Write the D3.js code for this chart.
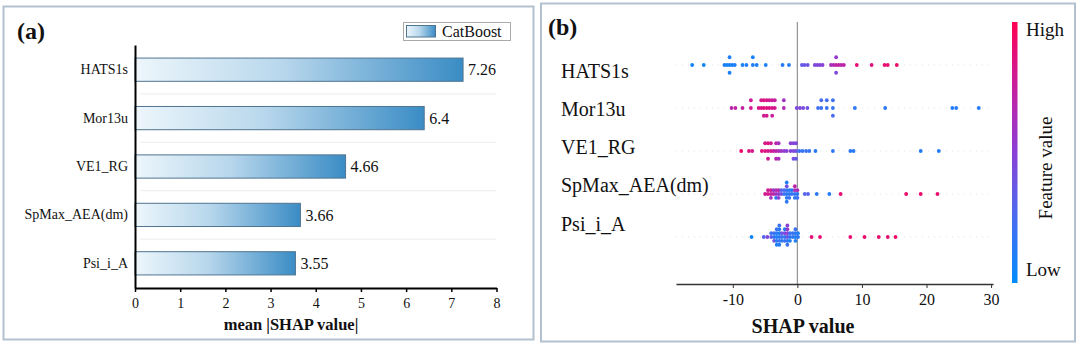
<!DOCTYPE html>
<html>
<head>
<meta charset="utf-8">
<script src="https://cdn.jsdelivr.net/npm/d3@7"></script>
<style>
  body { margin: 0; background: #fff; }
  svg text { font-family: "Liberation Serif", "Times New Roman", serif; fill: #111; }
</style>
</head>
<body>
<svg id="chart" width="1080" height="346"></svg>
<script>
// features, most important first
var features = ["HATS1s", "Mor13u", "VE1_RG", "SpMax_AEA(dm)", "Psi_i_A"];
var meanShap = [7.26, 6.4, 4.66, 3.66, 3.55];
var barTicks = [0, 1, 2, 3, 4, 5, 6, 7, 8];
var shapTicks = [-10, 0, 10, 20, 30];

// per-sample SHAP values and scaled feature values (0 = low, 1 = high)
var hatsShap = [-16.3, -14.5, -11.3, -10.9, -10.5, -10.5, -10.5, -10.1, -9.7, -8.5, -7.9, -6.9, -6.9, -6.3, -4.9, -2.3, -1.3,
  0.7, 1.1, 1.6, 2.7, 3.1, 3.5, 3.9, 5.2, 5.6, 6.0, 6.0, 6.0, 6.4, 6.8, 7.2, 9.2, 11.5, 13.5, 14.0, 15.4];
var hatsFeat = [.05, .05, .08, .08, .08, .1, .08, .08, .1, .08, .1, .1, .08, .1, .1, .12, .12,
  .35, .38, .38, .45, .45, .48, .5, .62, .66, .7, .55, .45, .72, .7, .72, .9, .85, .9, .9, .92];

var morShap = [-10.2, -9.6, -8.5, -7.2, -7.2, -6.0, -5.6, -5.6, -5.2, -5.2, -5.2, -4.75, -4.75, -4.75,
  -4.35, -4.35, -3.9, -3.9, -3.9, -3.5, -3.5, -2.1, -2.1,
  -0.1, 0.4, 0.9, 1.55, 3.2, 3.7, 3.7, 4.55, 4.55, 5.5, 5.5, 5.5, 8.9, 13.6, 24.0, 24.6, 28.1];
var morFeat = [.7, .72, .75, .8, .78, .82, .85, .8, .88, .85, .8, .85, .82, .8,
  .85, .8, .82, .78, .75, .8, .75, .65, .6,
  .45, .45, .42, .4, .22, .2, .25, .2, .22, .18, .2, .25, .15, .15, .12, .12, .12];

var veShap = [-8.7, -7.5, -7.0, -5.5, -5.0, -5.0, -4.55, -4.55, -4.55, -4.1, -4.1, -3.7, -3.3, -3.3, -3.3,
  -2.9, -2.9, -2.9, -2.5, -2.05, -1.65, -1.05, -1.05, -0.6, -0.6, -0.6, -0.2, -0.2, -0.2,
  0.3, 0.8, 1.35, 1.85, 2.8, 5.5, 8.2, 8.7, 19.1, 21.9];
var veFeat = [.92, .85, .82, .85, .85, .82, .82, .85, .8, .8, .78, .75, .7, .72, .68,
  .65, .6, .62, .58, .55, .5, .48, .5, .45, .48, .42, .4, .45, .35,
  .2, .18, .2, .18, .15, .15, .15, .15, .12, .12];

var spShap = [-5.0, -4.55, -4.55, -4.1, -4.1, -4.1, -3.7, -3.7, -3.3, -3.3, -3.3, -2.9, -2.9, -2.9,
  -2.5, -2.5, -2.05, -2.05, -1.65, -1.65, -1.65, -1.65, -1.65, -1.65, -1.25, -1.25, -1.25,
  -0.85, -0.85, -0.4, -0.4, -0.4, -0.4, 0.0, 0.0, 0.0,
  1.15, 1.65, 3.0, 4.95, 6.7, 16.85, 19.1, 21.7];
var spFeat = [.8, .82, .78, .75, .8, .6, .7, .55, .6, .65, .15, .55, .7, .5,
  .4, .3, .2, .25, .15, .2, .12, .4, .15, .1, .15, .12, .2,
  .18, .15, .2, .6, .15, .7, .15, .65, .2,
  .3, .3, .15, .12, .9, .92, .92, .92];

var psiShap = [-7.1, -5.2, -4.65, -4.05, -4.05, -3.6, -3.6, -3.6, -3.2, -3.2, -3.2, -3.2, -3.2,
  -2.8, -2.8, -2.8, -2.8, -2.8, -2.8, -2.4, -2.4, -2.4, -1.95, -1.95, -1.95, -1.95,
  -1.55, -1.55, -1.55, -1.55, -1.55, -1.55, -1.15, -1.15, -1.15, -0.7, -0.7,
  -0.3, -0.3, -0.3, -0.3, 0.1, 0.1,
  2.2, 3.5, 8.2, 10.4, 12.6, 14.0, 15.2];
var psiFeat = [.05, .3, .45, .35, .2, .15, .2, .4, .1, .15, .12, .2, .1,
  .15, .1, .2, .15, .12, .2, .2, .35, .15, .15, .45, .2, .1,
  .4, .5, .15, .55, .2, .5, .15, .2, .1, .15, .2,
  .12, .15, .1, .2, .15, .1,
  .88, .9, .9, .92, .9, .9, .92];

var rowShap = [hatsShap, morShap, veShap, spShap, psiShap];
var rowFeat = [hatsFeat, morFeat, veFeat, spFeat, psiFeat];

var svg = d3.select("#chart");
var defs = svg.append("defs");

// ---------- panel frames ----------
svg.append("rect").attr("x", 3.5).attr("y", 6.5).attr("width", 530).attr("height", 333)
  .attr("fill", "none").attr("stroke", "#b3c1cf").attr("stroke-width", 2);
svg.append("rect").attr("x", 541).attr("y", 3.5).attr("width", 534).attr("height", 338)
  .attr("fill", "none").attr("stroke", "#b3c1cf").attr("stroke-width", 2);

// ---------- (a) mean |SHAP| bars ----------
var barGrad = defs.append("linearGradient").attr("id", "barGrad");
barGrad.append("stop").attr("offset", "0%").attr("stop-color", "#edf6fb");
barGrad.append("stop").attr("offset", "45%").attr("stop-color", "#b8d7ec");
barGrad.append("stop").attr("offset", "100%").attr("stop-color", "#3a8cc5");

var xBar = d3.scaleLinear().domain([0, 8]).range([135, 496.5]);
var yBar = d3.scaleBand().domain(features).range([45, 288]).paddingInner(0.52).paddingOuter(0.27);

var panelA = svg.append("g");

// faint separators between bars
var sepY = features.slice(1).map(function(f) { return yBar(f) - yBar.step() * yBar.paddingInner() / 2; });
panelA.selectAll(".sep").data(sepY).enter().append("line")
  .attr("x1", 140).attr("x2", 496).attr("y1", d => d).attr("y2", d => d)
  .attr("stroke", "#ececec").attr("stroke-width", 1);

panelA.selectAll(".bar").data(features).enter().append("rect")
  .attr("x", xBar(0))
  .attr("y", d => yBar(d))
  .attr("width", (d, i) => xBar(meanShap[i]) - xBar(0))
  .attr("height", yBar.bandwidth())
  .attr("fill", "url(#barGrad)")
  .attr("stroke", "#4f7490").attr("stroke-width", 1);

panelA.selectAll(".val").data(features).enter().append("text")
  .attr("x", (d, i) => xBar(meanShap[i]) + 5)
  .attr("y", d => yBar(d) + yBar.bandwidth() / 2)
  .attr("dy", "0.35em")
  .style("font-size", "16px")
  .text((d, i) => meanShap[i]);

var axA = panelA.append("g").attr("transform", "translate(0,288)")
  .call(d3.axisBottom(xBar).tickValues(barTicks).tickSize(4).tickSizeOuter(0))
  .attr("font-family", null);
axA.select(".domain").attr("stroke", "#000").attr("stroke-width", 2);
axA.selectAll(".tick line").attr("stroke", "#000").attr("stroke-width", 1.5);
axA.selectAll(".tick text").style("font-size", "14px").attr("fill", "#222").attr("dy", "0.95em");

var ayA = panelA.append("g").attr("transform", "translate(135,0)")
  .call(d3.axisLeft(yBar).tickSize(0).tickPadding(7))
  .attr("font-family", null);
ayA.select(".domain").attr("stroke", "#000").attr("stroke-width", 2);
ayA.selectAll(".tick text").style("font-size", "14px").attr("fill", "#333");

panelA.append("text").attr("x", 291).attr("y", 330).attr("text-anchor", "middle")
  .style("font-size", "16.5px").style("font-weight", "bold").text("mean |SHAP value|");
panelA.append("text").attr("x", 17).attr("y", 39)
  .style("font-size", "24px").style("font-weight", "bold").text("(a)");

// legend
panelA.append("rect").attr("x", 403.5).attr("y", 22.5).attr("width", 107).attr("height", 18)
  .attr("fill", "#fff").attr("stroke", "#aaa").attr("stroke-width", 1);
panelA.append("rect").attr("x", 406.5).attr("y", 25.5).attr("width", 29).attr("height", 11.5)
  .attr("fill", "url(#barGrad)").attr("stroke", "#4f7490").attr("stroke-width", 1);
panelA.append("text").attr("x", 442).attr("y", 36.5).style("font-size", "16px").text("CatBoost");

// ---------- (b) SHAP summary beeswarm ----------
// blue -> purple -> red, low to high feature value
var colorOf = d3.piecewise(d3.interpolateRgb, ["#008bfb", "#4a6cf0", "#8a3fd6", "#c6209f", "#ff0052"]);
var xS = d3.scaleLinear().domain([-18.8, 30.3]).range([676, 993]);
var yS = d3.scalePoint().domain(features).range([65, 237]);
var rowStep = yS.step();
var yLab = d3.scalePoint().domain(features).range([77.5, 230.8]);

var panelB = svg.append("g");

// row guide lines and zero line
panelB.selectAll(".guide").data(features).enter().append("line")
  .attr("x1", xS.range()[0]).attr("x2", xS.range()[1])
  .attr("y1", d => yS(d)).attr("y2", d => yS(d))
  .attr("stroke", "#cccccc").attr("stroke-width", 0.6).attr("stroke-dasharray", "1,5");
panelB.append("line").attr("x1", xS(0)).attr("x2", xS(0)).attr("y1", 22).attr("y2", 284)
  .attr("stroke", "#999").attr("stroke-width", 1.3);

// stack points sharing a bin alternately above and below the row line
function swarm(vals) {
  var nbins = 100;
  var lo = d3.min(vals), hi = d3.max(vals);
  var quant = vals.map(v => Math.round(nbins * (v - lo) / (hi - lo + 1e-8)));
  var order = d3.range(vals.length).sort((a, b) => quant[a] - quant[b]);
  var ys = vals.map(() => 0), layer = 0, last = -1;
  order.forEach(function(i) {
    if (quant[i] !== last) layer = 0;
    ys[i] = Math.ceil(layer / 2) * ((layer % 2) * 2 - 1);
    layer++;
    last = quant[i];
  });
  var k = 0.9 * (0.4 / (d3.max(ys) + 1));
  return ys.map(y => y * k);
}

var points = [];
features.forEach(function(f, r) {
  var offs = swarm(rowShap[r]);
  rowShap[r].forEach(function(v, i) {
    points.push({ feature: f, shap: v, fv: rowFeat[r][i], off: offs[i] });
  });
});

panelB.selectAll(".dot").data(points).enter().append("circle")
  .attr("cx", d => xS(d.shap))
  .attr("cy", d => yS(d.feature) - d.off * rowStep)
  .attr("r", 1.9)
  .attr("fill", d => colorOf(d.fv));

panelB.selectAll(".flab").data(features).enter().append("text")
  .attr("x", 561).attr("y", d => yLab(d))
  .style("font-size", "20px").text(d => d);

var axB = panelB.append("g").attr("transform", "translate(0,284)")
  .call(d3.axisBottom(xS).tickValues(shapTicks).tickSize(4).tickSizeOuter(0).tickFormat(d => String(d)))
  .attr("font-family", null);
axB.select(".domain").attr("stroke", "#333").attr("stroke-width", 1.3);
axB.selectAll(".tick line").attr("stroke", "#333");
axB.selectAll(".tick text").style("font-size", "16px").attr("fill", "#222").attr("dy", "0.9em");

panelB.append("text").attr("x", 803).attr("y", 333).attr("text-anchor", "middle")
  .style("font-size", "20px").style("font-weight", "bold").text("SHAP value");
panelB.append("text").attr("x", 548).attr("y", 35)
  .style("font-size", "24px").style("font-weight", "bold").text("(b)");

// colour bar
var cbGrad = defs.append("linearGradient").attr("id", "cbGrad")
  .attr("x1", 0).attr("y1", 1).attr("x2", 0).attr("y2", 0);
d3.range(0, 1.0001, 0.1).forEach(function(t) {
  cbGrad.append("stop").attr("offset", t).attr("stop-color", colorOf(t));
});
var cbY = d3.scaleLinear().domain([0, 1]).range([283, 22]);
panelB.append("rect").attr("x", 1012).attr("y", cbY(1)).attr("width", 5.5)
  .attr("height", cbY(0) - cbY(1)).attr("fill", "url(#cbGrad)");
panelB.append("text").attr("x", 1026).attr("y", cbY(1) + 14).style("font-size", "19px").text("High");
panelB.append("text").attr("x", 1026).attr("y", cbY(0) - 7).style("font-size", "19px").text("Low");
panelB.append("text").attr("transform", "translate(1052,168) rotate(-90)")
  .attr("text-anchor", "middle").style("font-size", "19px").text("Feature value");
</script>
</body>
</html>
